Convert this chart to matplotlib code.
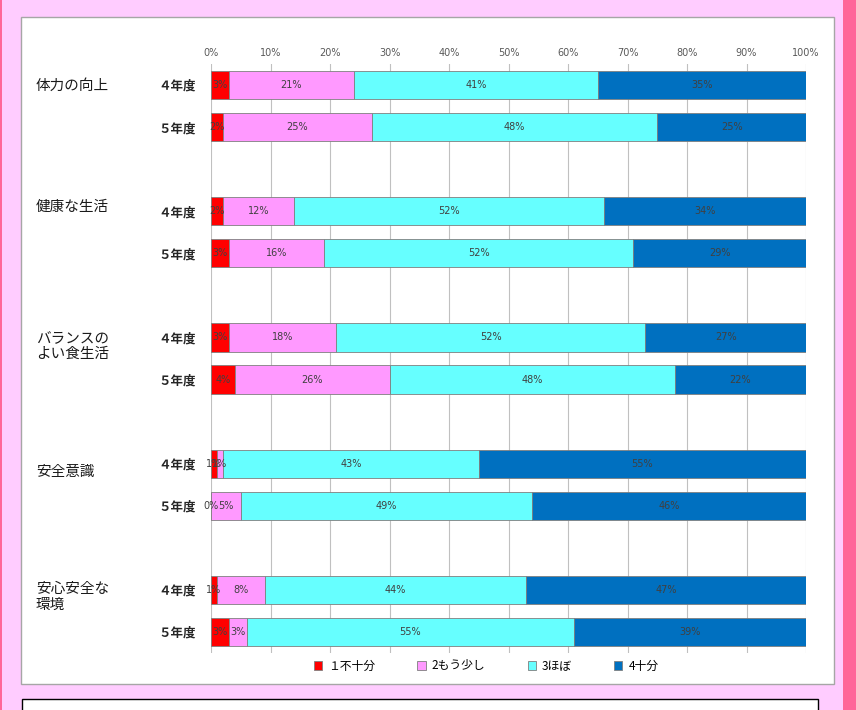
import numpy as np
import matplotlib.pyplot as plt
from matplotlib.patches import Rectangle
from matplotlib.ticker import PercentFormatter
from matplotlib.transforms import blended_transform_factory

plt.rcParams['font.family'] = ['Noto Sans CJK JP', 'DejaVu Sans']

groups = ['体力の向上', '健康な生活', 'バランスの\nよい食生活', '安全意識', '安心安全な\n環境']
years = ['４年度', '５年度']
series = ['１不十分', '2もう少し', '3ほぼ', '4十分']
colors = ['#FF0000', '#FF99FF', '#66FFFF', '#0070C0']

# percent per series, rows = group x year (4年度, 5年度)
s1 = [3, 2, 2, 3, 3, 4, 1, 0, 1, 3]
s2 = [21, 25, 12, 16, 18, 26, 1, 5, 8, 3]
s3 = [41, 48, 52, 52, 52, 48, 43, 49, 44, 55]
s4 = [35, 25, 34, 29, 27, 22, 55, 46, 47, 39]

W, H = 856, 710
fig = plt.figure(figsize=(W / 100, H / 100), dpi=100)
fig.patch.set_facecolor('#FFCCFF')


def box(x0, y0, x1, y1, **kw):
    # pixel box -> figure fraction
    r = Rectangle((x0 / W, 1 - y1 / H), (x1 - x0) / W, (y1 - y0) / H,
                  transform=fig.transFigure, zorder=-1, **kw)
    fig.add_artist(r)


box(0, 0, 2, H, facecolor='#FF6699', edgecolor='none')
box(843, 0, W, H, facecolor='#FF6699', edgecolor='none')
box(21, 17, 834, 684, facecolor='white', edgecolor='#A6A6A6', lw=1)
box(22, 699, 818, H + 10, facecolor='white', edgecolor='black', lw=1)

ax = fig.add_axes([211 / W, 1 - 653 / H, (806 - 211) / W, (653 - 64) / H])
ax.set_facecolor('none')

# rows: two bars per group, one blank row between groups
ypos = []
for g in range(len(groups)):
    ypos += [3 * g, 3 * g + 1]
ypos = np.array(ypos)

data = np.array([s1, s2, s3, s4]) / 100.0
left = np.zeros(len(ypos))
for k in range(4):
    ax.barh(ypos, data[k], left=left, height=0.67, color=colors[k],
            edgecolor='#7F7F7F', lw=0.6, label=series[k], zorder=2)
    for i in range(len(ypos)):
        ax.text(left[i] + data[k][i] / 2, ypos[i], '%d%%' % round(data[k][i] * 100),
                ha='center', va='center', fontsize=7, color='#404040',
                family='DejaVu Sans', zorder=3)
    left = left + data[k]

ax.set_xlim(0, 1)
ax.set_ylim(13.5, -0.5)
ax.set_xticks(np.arange(0, 1.01, 0.1))
ax.xaxis.set_major_formatter(PercentFormatter(1.0, decimals=0))
ax.xaxis.tick_top()
ax.tick_params(axis='x', length=0, pad=4, labelsize=7, labelcolor='#595959')
for lab in ax.get_xticklabels():
    lab.set_family('DejaVu Sans')
ax.grid(axis='x', color='#C0C0C0', lw=0.8, zorder=0)
ax.set_axisbelow(True)
for sp in ax.spines.values():
    sp.set_visible(False)

ax.set_yticks(ypos)
ax.set_yticklabels(years * len(groups), fontsize=9, fontweight='bold', color='#262626')
ax.tick_params(axis='y', length=0, pad=11)

# group names on the far left
trans = blended_transform_factory(fig.transFigure, ax.transData)
group_y = [0.03, 2.91, 6.21, 9.19, 12.17]
for name, gy in zip(groups, group_y):
    ax.text(36 / W, gy, name, transform=trans, fontsize=10.5, va='center',
            linespacing=1.1, color='#1A1A1A')

fig.legend(loc='center', bbox_to_anchor=(486 / W, 1 - 666 / H), ncol=4, frameon=False,
           fontsize=8.5, handlelength=0.7, handleheight=0.7, handletextpad=0.5,
           columnspacing=3.6)

fig.savefig('out.png', dpi=100, facecolor=fig.get_facecolor())
